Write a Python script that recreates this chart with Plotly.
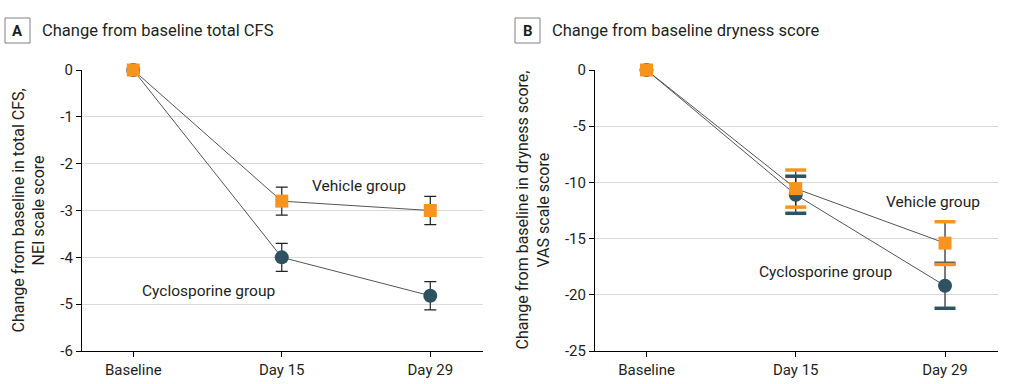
import plotly.graph_objects as go

# ---- data ----
timepoints = ["Baseline", "Day 15", "Day 29"]
xpos = [0, 1, 2]

# Panel A: total CFS (NEI scale)
cfs_vehicle = [0, -2.8, -3.0]
cfs_vehicle_err = [0, 0.3, 0.3]
cfs_cyclo = [0, -4.0, -4.82]
cfs_cyclo_err = [0, 0.3, 0.3]

# Panel B: dryness score (VAS)
dry_vehicle = [0, -10.55, -15.4]
dry_vehicle_err = [0, 1.65, 1.9]
dry_cyclo = [0, -11.1, -19.2]
dry_cyclo_err = [0, 1.65, 2.0]

a_ticks = [0, -1, -2, -3, -4, -5, -6]
b_ticks = [0, -5, -10, -15, -20, -25]

ORANGE = "#F7941D"
DARK = "#2E5260"
TXT = "#231F20"
FONT = "Roboto, Liberation Sans, sans-serif"

W, H = 1014, 384
ML, MR, MT, MB = 82, 16, 70, 33
PW = W - ML - MR

fig = go.Figure()

def add_panel(xa, ya, veh, veh_err, cyc, cyc_err, colored_caps):
    for vals, err in [(cyc, cyc_err), (veh, veh_err)]:
        ebar = dict(type="data", array=err, visible=True, color="#222222",
                    thickness=1.2, width=0 if colored_caps else 6)
        fig.add_trace(go.Scatter(x=xpos, y=vals, mode="lines", xaxis=xa, yaxis=ya,
                                 line=dict(color="#555555", width=1),
                                 error_y=ebar, cliponaxis=False, showlegend=False,
                                 hoverinfo="skip"))
    if colored_caps:
        for vals, err, col in [(cyc, cyc_err, DARK), (veh, veh_err, ORANGE)]:
            cx, cy = [], []
            for x, v, e in zip(xpos, vals, err):
                if e > 0:
                    cx += [x, x]
                    cy += [v + e, v - e]
            fig.add_trace(go.Scatter(x=cx, y=cy, mode="markers", xaxis=xa, yaxis=ya,
                                     marker=dict(symbol="line-ew", size=15,
                                                 line=dict(color=col, width=3.5)),
                                     cliponaxis=False, showlegend=False, hoverinfo="skip"))
    for vals, col, sym, sz in [(cyc, DARK, "circle", 14), (veh, ORANGE, "square", 13)]:
        fig.add_trace(go.Scatter(x=xpos, y=vals, mode="markers", xaxis=xa, yaxis=ya,
                                 marker=dict(symbol=sym, size=sz, color=col,
                                             line=dict(width=0)),
                                 cliponaxis=False, showlegend=False))

add_panel("x", "y", cfs_vehicle, cfs_vehicle_err, cfs_cyclo, cfs_cyclo_err, False)
add_panel("x2", "y2", dry_vehicle, dry_vehicle_err, dry_cyclo, dry_cyclo_err, True)

xcommon = dict(tickmode="array", tickvals=xpos, ticktext=timepoints, automargin=False,
               showgrid=False, zeroline=False, showline=True, linecolor="#000000",
               linewidth=1.2, ticks="outside", ticklen=5, tickcolor="#000000",
               tickfont=dict(size=15, color=TXT, family=FONT), range=[-0.345, 2.355])
ycommon = dict(showgrid=True, gridcolor="#D9D9D9", gridwidth=1, zeroline=False,
               automargin=False, tickmode="array",
               showline=True, linecolor="#000000", linewidth=1.2, ticks="outside",
               ticklen=5, tickcolor="#000000", tickfont=dict(size=15, color=TXT, family=FONT))

fig.update_layout(
    width=W, height=H, margin=dict(l=ML, r=MR, t=MT, b=MB, autoexpand=False),
    paper_bgcolor="white", plot_bgcolor="white",
    font=dict(family=FONT, color=TXT),
    xaxis=dict(domain=[0, (483-ML)/PW], anchor="y", **xcommon),
    xaxis2=dict(domain=[(595-ML)/PW, 1], anchor="y2", **xcommon),
    yaxis=dict(domain=[0, 1], anchor="x", range=[-6, 0],
               tickvals=a_ticks, ticktext=[str(t) for t in a_ticks], **ycommon),
    yaxis2=dict(domain=[0, 1], anchor="x2", range=[-25, 0],
                tickvals=b_ticks, ticktext=[str(t) for t in b_ticks], **ycommon),
)

annots = [
    dict(text="Vehicle group", x=1.52, y=-2.48, xref="x", yref="y"),
    dict(text="Cyclosporine group", x=0.51, y=-4.72, xref="x", yref="y"),
    dict(text="Vehicle group", x=1.92, y=-11.7, xref="x2", yref="y2"),
    dict(text="Cyclosporine group", x=1.2, y=-18.0, xref="x2", yref="y2"),
]
for a in annots:
    fig.add_annotation(showarrow=False, font=dict(size=15.5, color=TXT, family=FONT), **a)

def px(x):
    return (x - ML) / PW

def py(y):
    return (H - MB - y) / (H - MT - MB)

# Panel titles with letter boxes
for letter, x0, title in [("A", 5, "Change from baseline total CFS"),
                          ("B", 515, "Change from baseline dryness score")]:
    fig.add_shape(type="rect", xref="paper", yref="paper",
                  x0=px(x0), x1=px(x0+25), y0=py(43), y1=py(18),
                  line=dict(color="#808080", width=1))
    fig.add_annotation(text="<b>%s</b>" % letter, x=px(x0+12.5), y=py(30.5),
                       xref="paper", yref="paper", showarrow=False,
                       xanchor="center", yanchor="middle",
                       font=dict(size=15, color=TXT, family=FONT))
    fig.add_annotation(text=title, x=px(x0+35), y=py(31), xref="paper", yref="paper",
                       showarrow=False, xanchor="left", yanchor="middle",
                       font=dict(size=16.5, color=TXT, family=FONT))

# Y axis titles (two lines, rotated)
for cx1, cx2, l1, l2 in [(18, 38, "Change from baseline in total CFS,", "NEI scale score"),
                         (522, 543, "Change from baseline in dryness score,", "VAS scale score")]:
    for cx, txt in [(cx1, l1), (cx2, l2)]:
        fig.add_annotation(text=txt, x=px(cx), y=py(210.5), xref="paper", yref="paper",
                           showarrow=False, textangle=-90, xanchor="center", yanchor="middle",
                           font=dict(size=16, color=TXT, family=FONT))

fig.write_html("out.html", config={"displayModeBar": False},
               post_script="document.body.style.margin='0';document.body.style.overflow='hidden';")
